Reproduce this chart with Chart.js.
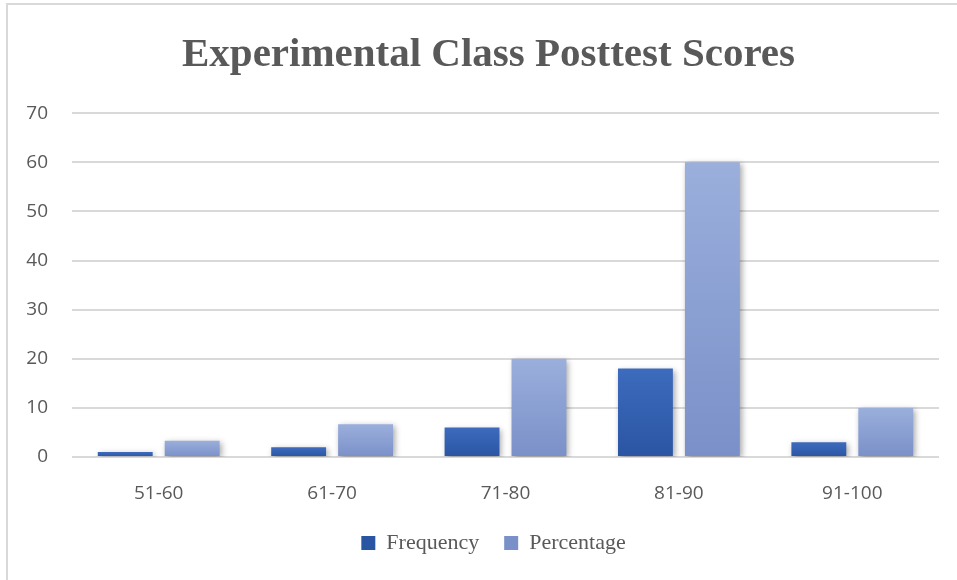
<!DOCTYPE html>
<html>
<head>
<meta charset="utf-8">
<script src="https://cdn.jsdelivr.net/npm/chart.js@4.4.1/dist/chart.umd.min.js"></script>
<style>
  html, body { margin: 0; padding: 0; background: #ffffff; }
  body { width: 957px; height: 580px; position: relative; overflow: hidden; }
  #frame { position: absolute; left: 6px; top: 3px; width: 955px; height: 580px;
           border-left: 2px solid #d9d9d9; border-top: 2px solid #d9d9d9; }
  #wrap { position: absolute; left: 8px; top: 5px; width: 949px; height: 575px; }
</style>
</head>
<body>
<div id="frame"></div>
<div id="wrap"><canvas id="c" width="949" height="575"></canvas></div>
<script>
const titleText = "Experimental Class Posttest Scores";
const categories = ["51-60", "61-70", "71-80", "81-90", "91-100"];
const frequency = [1, 2, 6, 18, 3];
const percentage = [3.33, 6.67, 20, 60, 10];
const yTicks = [0, 10, 20, 30, 40, 50, 60, 70];

function barGradient(topColor, bottomColor, solid) {
  return function (ctx) {
    const chart = ctx.chart;
    if (ctx.type !== 'data' || !chart.scales || !chart.scales.y) return solid;
    const y = chart.scales.y;
    const v = ctx.raw;
    const top = y.getPixelForValue(v);
    const base = y.getPixelForValue(0);
    if (!isFinite(top) || !isFinite(base) || Math.abs(base - top) < 1) return solid;
    const g = chart.ctx.createLinearGradient(0, top, 0, base);
    g.addColorStop(0, topColor);
    g.addColorStop(1, bottomColor);
    return g;
  };
}

const shadowPlugin = {
  id: 'barShadow',
  beforeDatasetsDraw(chart) {
    const c = chart.ctx;
    c.save();
    c.shadowColor = 'rgba(0,0,0,0.35)';
    c.shadowBlur = 6;
    c.shadowOffsetX = 2;
    c.shadowOffsetY = 2;
  },
  afterDatasetsDraw(chart) {
    chart.ctx.restore();
  }
};

// Nudge title and legend horizontally to match the reference centring
const nudgePlugin = {
  id: 'nudge',
  afterLayout(chart) {
    const t = chart.titleBlock;
    if (t) { t.left += 11; t.right += 11; }
    const l = chart.legend;
    if (l) { l.left += 16; l.right += 16; }
  }
};

new Chart(document.getElementById('c'), {
  type: 'bar',
  data: {
    labels: categories,
    datasets: [
      {
        label: 'Frequency',
        data: frequency,
        backgroundColor: barGradient('#3d6bbd', '#2a55a3', '#3360b0'),
        borderWidth: 0,
        categoryPercentage: 0.772,
        barPercentage: 0.82
      },
      {
        label: 'Percentage',
        data: percentage,
        backgroundColor: barGradient('#9bafdc', '#7a90c8', '#8ea3d5'),
        borderWidth: 0,
        categoryPercentage: 0.772,
        barPercentage: 0.82
      }
    ]
  },
  options: {
    responsive: false,
    animation: false,
    layout: { padding: { left: 8, right: 18, top: 0, bottom: 16 } },
    plugins: {
      title: {
        display: true,
        text: titleText,
        color: '#595959',
        font: { family: 'Liberation Serif', size: 41, weight: 'bold' },
        padding: { top: 26, bottom: 33 }
      },
      legend: {
        position: 'bottom',
        labels: {
          color: '#595959',
          font: { family: 'Liberation Serif', size: 22 },
          boxWidth: 14,
          boxHeight: 14,
          padding: 25
        }
      },
      tooltip: { enabled: false }
    },
    scales: {
      x: {
        grid: { display: false },
        border: { display: false },
        ticks: {
          color: '#595959',
          font: { family: 'Open Sans', size: 19 },
          padding: 17
        },
        afterFit(scale) { scale.height = 50; }
      },
      y: {
        min: 0,
        max: 70,
        afterBuildTicks(scale) { scale.ticks = yTicks.map(v => ({ value: v })); },
        grid: { color: '#d9d9d9', lineWidth: 2, drawTicks: false },
        border: { display: false },
        ticks: {
          color: '#595959',
          font: { family: 'Open Sans', size: 19 },
          padding: 24
        },
        afterFit(scale) { scale.width = 56; }
      }
    }
  },
  plugins: [shadowPlugin, nudgePlugin]
});
</script>
</body>
</html>
